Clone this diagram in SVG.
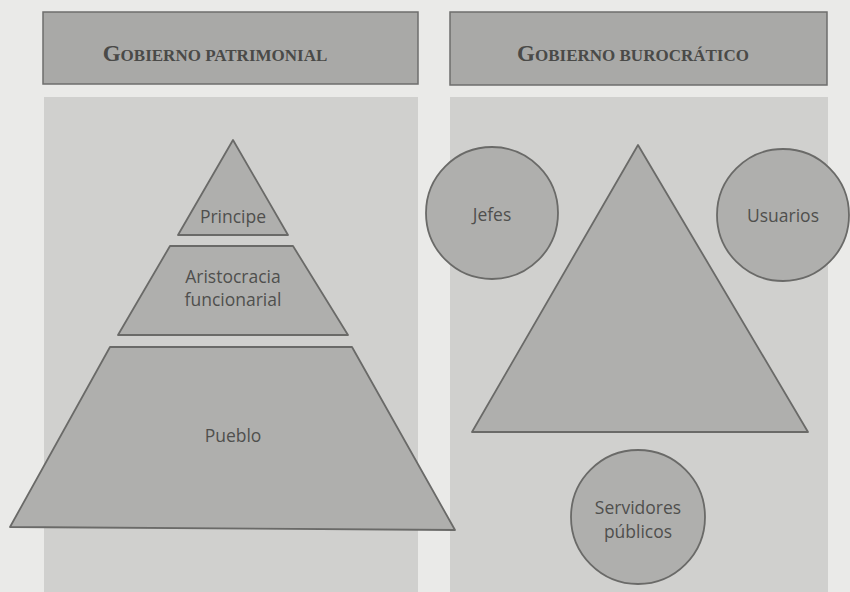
<svg xmlns="http://www.w3.org/2000/svg" width="850" height="592" viewBox="0 0 850 592">
<style>
.hdr{fill:#a9a9a7;stroke:#6e6e6c;stroke-width:1.5}
.panel{fill:#d0d0ce}
.shape{fill:#afafad;stroke:#6a6a68;stroke-width:1.8;stroke-linejoin:round}
.ht{font-family:"Liberation Serif",serif;fill:#4a4a48;text-anchor:middle;font-weight:bold}
.lbl{font-family:"Open Sans","Liberation Sans",sans-serif;font-size:17.5px;fill:#4f4f4d;text-anchor:middle}
</style>
<rect width="850" height="592" fill="#eaeae8"/>
<g id="panel-left">
<rect class="panel" x="44" y="97" width="374" height="495"/>
</g>
<g id="panel-right">
<rect class="panel" x="450" y="97" width="378" height="495"/>
</g>
<g id="header-left">
<rect class="hdr" x="43" y="12" width="375" height="72"/>
<text class="ht" x="215" y="61"><tspan font-size="23">G</tspan><tspan font-size="17">OBIERNO PATRIMONIAL</tspan></text>
</g>
<g id="header-right">
<rect class="hdr" x="450" y="12" width="377" height="73"/>
<text class="ht" x="633" y="61"><tspan font-size="23">G</tspan><tspan font-size="17">OBIERNO BUROCRÁTICO</tspan></text>
</g>
<g id="principe">
<polygon class="shape" points="233,140 288,235 178,235"/>
<text class="lbl" x="233" y="223">Principe</text>
</g>
<g id="aristocracia">
<polygon class="shape" points="170,246 293,246 348,335 118,335"/>
<text class="lbl" x="233" y="283">Aristocracia</text>
<text class="lbl" x="233" y="306">funcionarial</text>
</g>
<g id="pueblo">
<polygon class="shape" points="110,347 352,347 455,530 10,527"/>
<text class="lbl" x="233" y="442">Pueblo</text>
</g>
<g id="triangulo">
<polygon class="shape" points="638,145 808,432 472,432"/>
</g>
<g id="jefes">
<circle class="shape" cx="492" cy="213" r="66"/>
<text class="lbl" x="492" y="221">Jefes</text>
</g>
<g id="usuarios">
<circle class="shape" cx="783" cy="215" r="66"/>
<text class="lbl" x="783" y="222">Usuarios</text>
</g>
<g id="servidores">
<circle class="shape" cx="638" cy="517" r="67"/>
<text class="lbl" x="638" y="514">Servidores</text>
<text class="lbl" x="638" y="538">públicos</text>
</g>
<g id="connectors"/>
</svg>
